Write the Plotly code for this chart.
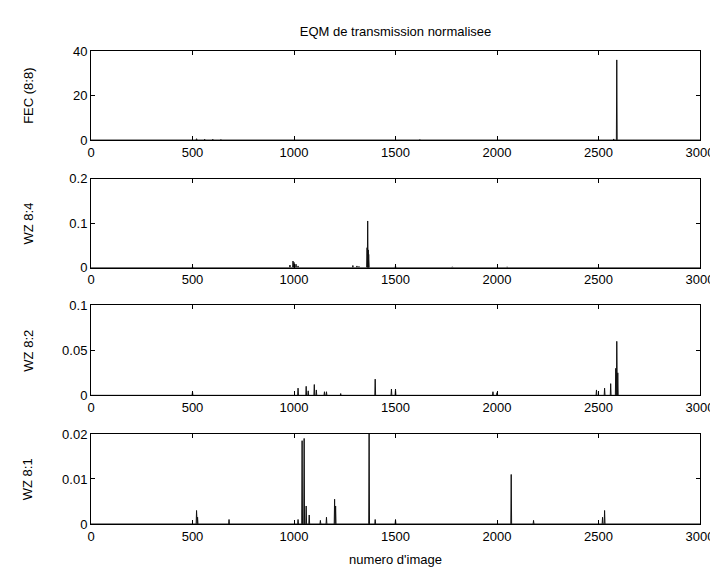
# Normalised transmission MSE per frame, four stacked panels (MATLAB-style look)
import plotly.graph_objects as go
from plotly.subplots import make_subplots

# FEC (8:8)
fec_frames = [300, 520, 560, 600, 640, 1620, 2575, 2590]
fec_values = [0.3, 0.6, 0.4, 0.4, 0.3, 0.3, 0.5, 36]

# WZ 8:4
wz84_frames = [500, 980, 995, 1000, 1010, 1020, 1290, 1310, 1320,
               1360, 1363, 1366, 1368, 1500, 1780, 2050]
wz84_values = [0.003, 0.006, 0.015, 0.012, 0.008, 0.004, 0.005, 0.004, 0.003,
               0.045, 0.105, 0.04, 0.03, 0.004, 0.002, 0.002]

# WZ 8:2
wz82_frames = [500, 1020, 1060, 1070, 1100, 1110, 1150, 1160, 1230, 1400,
               1480, 1500, 1980, 2000, 2490, 2530, 2560, 2585, 2590, 2595]
wz82_values = [0.004, 0.008, 0.01, 0.005, 0.012, 0.006, 0.004, 0.004, 0.002, 0.018,
               0.007, 0.007, 0.004, 0.003, 0.006, 0.008, 0.013, 0.03, 0.06, 0.025]

# WZ 8:1
wz81_frames = [520, 525, 680, 1020, 1040, 1050, 1060, 1075, 1130, 1160,
               1200, 1205, 1370, 1400, 1500, 2070, 2180, 2520, 2530]
wz81_values = [0.003, 0.0015, 0.001, 0.001, 0.0185, 0.019, 0.004, 0.002, 0.0008, 0.0015,
               0.0055, 0.004, 0.02, 0.001, 0.001, 0.011, 0.0008, 0.0015, 0.003]

panels = [
    ("FEC (8:8)", fec_frames, fec_values, [0, 40], [0, 20, 40]),
    ("WZ 8:4", wz84_frames, wz84_values, [0, 0.2], [0, 0.1, 0.2]),
    ("WZ 8:2", wz82_frames, wz82_values, [0, 0.1], [0, 0.05, 0.1]),
    ("WZ 8:1", wz81_frames, wz81_values, [0, 0.02], [0, 0.01, 0.02]),
]
x_ticks = [0, 500, 1000, 1500, 2000, 2500, 3000]

domains = [[0.8117, 1.0], [0.5418, 0.7301], [0.2720, 0.4623], [0.0, 0.1904]]

fig = make_subplots(rows=4, cols=1)

for i, (name, frames, values, yr, yt) in enumerate(panels, start=1):
    # each spike: baseline -> peak -> baseline
    xs, ys = [0], [0]
    for f, v in zip(frames, values):
        xs += [f - 2, f, f + 2]
        ys += [0, v, 0]
    xs.append(3000)
    ys.append(0)
    fig.add_trace(go.Scatter(x=xs, y=ys, mode="lines",
                             line=dict(color="#111111", width=1),
                             showlegend=False), row=i, col=1)
    fig.update_yaxes(range=yr, tickvals=yt, ticktext=[f"{t:g}" for t in yt],
                     domain=domains[i - 1], row=i, col=1)
    # y labels all sit at the same distance from the left edge, like MATLAB
    d = domains[i - 1]
    fig.add_annotation(text=name, textangle=-90, xref="paper", yref="paper",
                       x=-(83 - 20) / 612, y=(d[0] + d[1]) / 2,
                       xanchor="center", yanchor="middle", showarrow=False,
                       font=dict(size=13, color="black"))

axis_style = dict(showline=True, linecolor="black", linewidth=1, mirror="ticks",
                  ticks="inside", ticklen=4, tickcolor="black", showgrid=False,
                  zeroline=False, tickfont=dict(size=13, color="black"))
fig.update_xaxes(range=[0, 3000], tickvals=x_ticks, **axis_style)
fig.update_yaxes(**axis_style)
fig.update_xaxes(title=dict(text="numero d'image", standoff=12,
                            font=dict(size=13, color="black")), row=4, col=1)

fig.update_layout(
    width=718, height=569,
    margin=dict(l=83, r=23, t=43, b=48),
    paper_bgcolor="white", plot_bgcolor="white",
    font=dict(family="Liberation Sans, Arial, sans-serif", size=13, color="black"),
    title=dict(text="EQM de transmission normalisee", x=0.5, xref="paper",
               y=1 - 23 / 569, yref="container", yanchor="middle",
               font=dict(size=13, color="black")),
)

fig.write_html("out.html")
